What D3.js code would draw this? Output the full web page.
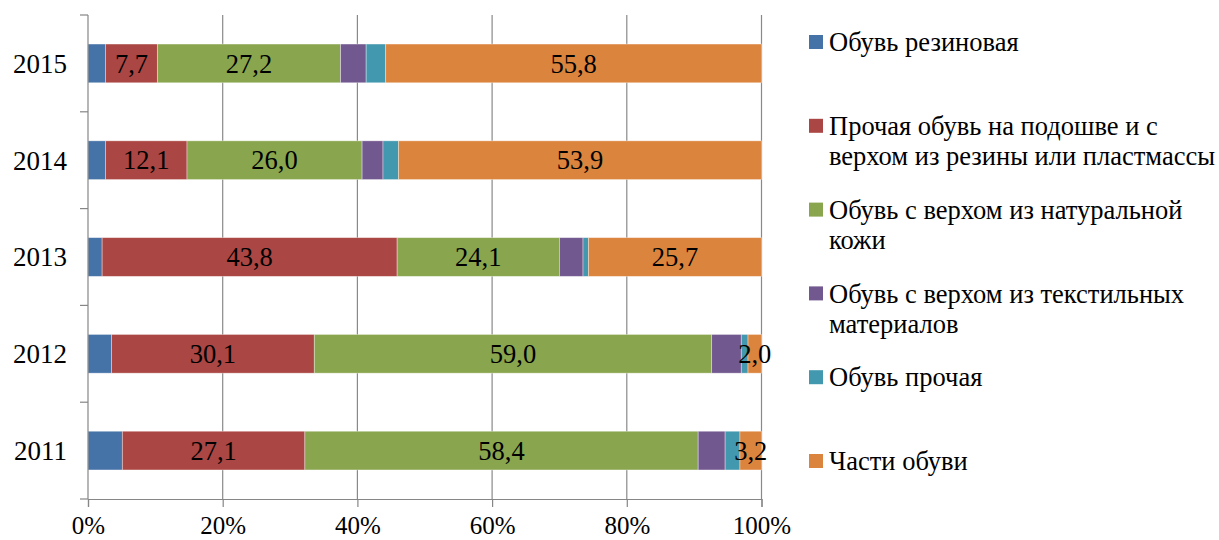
<!DOCTYPE html>
<html>
<head>
<meta charset="utf-8">
<script src="https://cdn.jsdelivr.net/npm/d3@7"></script>
<style>
  body { margin: 0; background: #fff; }
  text { font-family: "Liberation Serif", "Times New Roman", serif; fill: #000; }
</style>
</head>
<body>
<div id="chart"></div>
<script>
var years = ["2011", "2012", "2013", "2014", "2015"];
var seriesNames = [
    ["Обувь резиновая"],
    ["Прочая обувь на подошве и с", "верхом из резины или пластмассы"],
    ["Обувь с верхом из натуральной", "кожи"],
    ["Обувь с верхом из текстильных", "материалов"],
    ["Обувь прочая"],
    ["Части обуви"]
];
var rubber     = [5.1, 3.5, 2.1, 2.6, 2.6];
var otherSole  = [27.1, 30.1, 43.8, 12.1, 7.7];
var leather    = [58.4, 59.0, 24.1, 26.0, 27.2];
var textile    = [4.0, 4.4, 3.5, 3.1, 3.8];
var otherShoes = [2.2, 1.0, 0.8, 2.3, 2.9];
var parts      = [3.2, 2.0, 25.7, 53.9, 55.8];
var xTicks = [0, 20, 40, 60, 80, 100];

var colors = ["#4572A7", "#AA4643", "#89A54E", "#71588F", "#4198AF", "#DB843D"];
var labelled = [1, 2, 5];

var seriesValues = [rubber, otherSole, leather, textile, otherShoes, parts];
var keys = d3.range(seriesValues.length);
var rows = years.map(function(y, i) {
    var r = { year: y };
    keys.forEach(function(k) { r[k] = seriesValues[k][i]; });
    return r;
});
var stacked = d3.stack().keys(keys)(rows);

var width = 1219, height = 540;
var svg = d3.select("#chart").append("svg")
    .attr("width", width).attr("height", height);

var x = d3.scaleLinear().domain([0, 100]).range([88, 761.5]);
var y = d3.scaleBand().domain(years.slice().reverse()).range([15, 499])
    .paddingInner(0.6).paddingOuter(0.3);

// gridlines
svg.append("g").selectAll("line")
    .data(xTicks.slice(1))
    .enter().append("line")
    .attr("x1", function(d) { return x(d); })
    .attr("x2", function(d) { return x(d); })
    .attr("y1", 15).attr("y2", 499)
    .attr("stroke", "#898989").attr("stroke-width", 1.2);

// bars
var groups = svg.append("g").selectAll("g")
    .data(stacked)
    .enter().append("g")
    .attr("fill", function(d) { return colors[d.key]; });

groups.selectAll("rect")
    .data(function(d) { return d; })
    .enter().append("rect")
    .attr("x", function(d) { return x(d[0]); })
    .attr("width", function(d) { return x(d[1]) - x(d[0]); })
    .attr("y", function(d) { return y(d.data.year); })
    .attr("height", y.bandwidth())
    .attr("stroke", "#fff").attr("stroke-opacity", 0.45).attr("stroke-width", 0.8);

// data labels
labelled.forEach(function(k) {
    svg.append("g").selectAll("text")
        .data(stacked[k])
        .enter().append("text")
        .attr("x", function(d) { return (x(d[0]) + x(d[1])) / 2; })
        .attr("y", function(d) { return y(d.data.year) + y.bandwidth() / 2; })
        .attr("dy", "0.35em")
        .attr("text-anchor", "middle")
        .style("font-size", "26.5px")
        .text(function(d) { return (d[1] - d[0]).toFixed(1).replace(".", ","); });
});

// axes
var axisColor = "#868686";
var xAxis = svg.append("g").attr("transform", "translate(0,499)")
    .call(d3.axisBottom(x).tickValues(xTicks).tickSize(8)
        .tickFormat(function(d) { return d + "%"; }));
xAxis.select(".domain").attr("stroke", axisColor).attr("stroke-width", 1.2);
xAxis.selectAll(".tick line").attr("stroke", axisColor).attr("stroke-width", 1.2);
xAxis.selectAll(".tick text").attr("dy", 0).attr("y", 35)
    .style("font-size", "25px").attr("fill", "#000");

svg.append("line").attr("x1", 88).attr("x2", 88).attr("y1", 15).attr("y2", 499)
    .attr("stroke", axisColor).attr("stroke-width", 1.2);
var step = y.step();
svg.append("g").selectAll("line")
    .data(d3.range(years.length + 1))
    .enter().append("line")
    .attr("x1", 80).attr("x2", 88)
    .attr("y1", function(i) { return 15 + i * step; })
    .attr("y2", function(i) { return 15 + i * step; })
    .attr("stroke", axisColor).attr("stroke-width", 1.2);

svg.append("g").selectAll("text")
    .data(years)
    .enter().append("text")
    .attr("x", 67)
    .attr("y", function(d) { return y(d) + y.bandwidth() / 2; })
    .attr("dy", "0.35em")
    .attr("text-anchor", "end")
    .style("font-size", "27px")
    .text(function(d) { return d; });

// legend
var legend = svg.append("g").selectAll("g")
    .data(seriesNames)
    .enter().append("g")
    .attr("transform", function(d, i) { return "translate(809," + (42 + i * 83.8) + ")"; });
legend.append("rect")
    .attr("x", 0).attr("y", -7).attr("width", 14).attr("height", 14)
    .attr("fill", function(d, i) { return colors[i]; });
legend.each(function(lines) {
    var t = d3.select(this).append("text").style("font-size", "26.5px");
    lines.forEach(function(line, j) {
        t.append("tspan").attr("x", 20).attr("y", j * 30).attr("dy", "0.35em").text(line);
    });
});
</script>
</body>
</html>
